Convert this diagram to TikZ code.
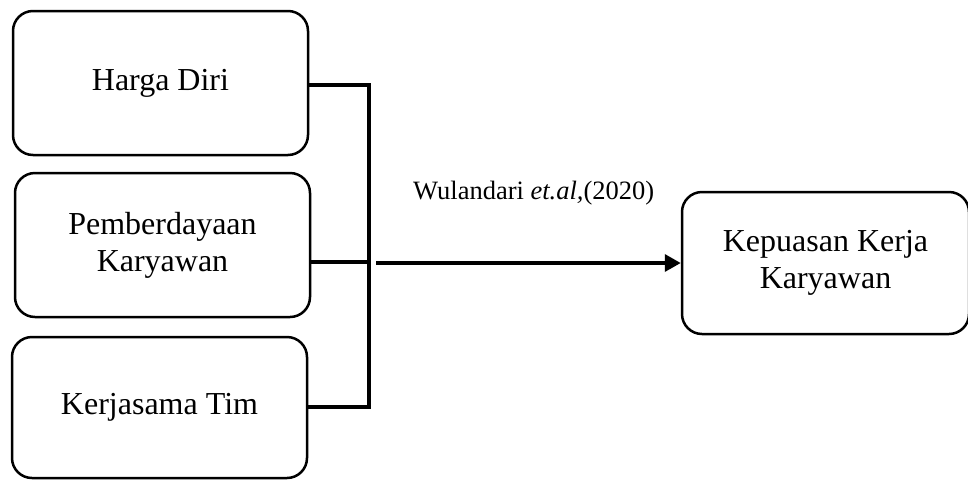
\documentclass[tikz,border=0pt]{standalone}
\usepackage{fontspec}
\setmainfont{Liberation Serif}
\usetikzlibrary{arrows.meta}
\tikzset{
  box/.style={draw=black, line width=2.5pt, rounded corners=20pt, align=center,
    inner sep=0pt, font=\fontsize{32}{37}\selectfont},
  bus/.style={draw=black, line width=3.8pt},
  arr/.style={draw=black, line width=3.5pt, -{Triangle[length=16pt,width=17pt]}},
  lbl/.style={font=\fontsize{26.5}{30}\selectfont, inner sep=0pt}
}
\begin{document}
\begin{tikzpicture}[x=1pt,y=-1pt]
\useasboundingbox (0,0) rectangle (968,480);
\node[box, minimum width=295pt, minimum height=144pt] (b1) at (160.5,83) {Harga Diri};
\node[box, minimum width=295pt, minimum height=144pt] (b2) at (162.5,245) {Pemberdayaan\\Karyawan};
\node[box, minimum width=295pt, minimum height=141pt] (b3) at (159.5,407.5) {Kerjasama Tim};
\node[box, minimum width=287pt, minimum height=142pt] (b4) at (825.5,263) {Kepuasan Kerja\\Karyawan};
\coordinate (jtop) at (369,85);
\coordinate (jmid) at (369,262);
\coordinate (jbot) at (369,407);
\coordinate (astart) at (376,263);
\draw[bus] (b1.east |- jtop) -- (jtop);
\draw[bus] (b2.east |- jmid) -- (jmid);
\draw[bus] (b3.east |- jbot) -- (jbot);
\draw[bus] ([yshift=1.9pt]jtop) -- ([yshift=-1.9pt]jbot);
\draw[arr] (astart) -- (b4.west);
\node[lbl, anchor=west] (cite) at (413,193) {Wulandari \textit{et.al,}(2020)};
\end{tikzpicture}
\end{document}
